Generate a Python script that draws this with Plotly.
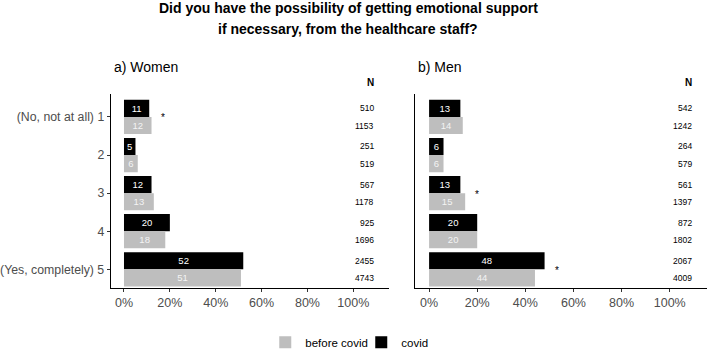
import plotly.graph_objects as go

W, H = 708, 357

categories = [1, 2, 3, 4, 5]
cat_labels = ["(No, not at all) 1", "2", "3", "4", "(Yes, completely) 5"]

women_covid = [11, 5, 12, 20, 52]
women_before = [12, 6, 13, 18, 51]
women_n_covid = [510, 251, 567, 925, 2455]
women_n_before = [1153, 519, 1178, 1696, 4743]
women_sig = [True, False, False, False, False]

men_covid = [13, 6, 13, 20, 48]
men_before = [14, 6, 15, 20, 44]
men_n_covid = [542, 264, 561, 872, 2067]
men_n_before = [1242, 579, 1397, 1802, 4009]
men_sig = [False, False, True, False, True]

x_tick_vals = [0, 20, 40, 60, 80, 100]
x_tick_text = ["0%", "20%", "40%", "60%", "80%", "100%"]

FONT = "Liberation Sans, Arial, sans-serif"
GREY = "#BEBEBE"
BLACK = "#000000"

def px_x(p):
    return p / W

def px_y(p):
    return 1 - p / H

fig = go.Figure()

panels = [
    ("x", "y", women_covid, women_before, women_n_covid, women_n_before, women_sig, True),
    ("x2", "y2", men_covid, men_before, men_n_covid, men_n_before, men_sig, False),
]

annotations = []
for xa, ya, cov, bef, ncov, nbef, sig, first in panels:
    fig.add_trace(go.Bar(
        x=cov, y=categories, orientation="h", name="covid",
        marker=dict(color=BLACK, line=dict(width=0)),
        text=[str(v) for v in cov], textposition="inside",
        insidetextanchor="middle", textangle=0,
        textfont=dict(color="white", size=9.5, family=FONT),
        xaxis=xa, yaxis=ya, showlegend=first, legendrank=2,
        offsetgroup="a", hoverinfo="skip",
    ))
    fig.add_trace(go.Bar(
        x=bef, y=categories, orientation="h", name="before covid",
        marker=dict(color=GREY, line=dict(width=0)),
        text=[str(v) for v in bef], textposition="inside",
        insidetextanchor="middle", textangle=0,
        textfont=dict(color="#F4F4F4", size=9.5, family=FONT),
        xaxis=xa, yaxis=ya, showlegend=first, legendrank=1,
        offsetgroup="b", hoverinfo="skip",
    ))
    for c, nc, nb in zip(categories, ncov, nbef):
        annotations.append(dict(xref=xa, yref=ya, x=110, y=c - 0.225, text=str(nc),
                                xanchor="right", yanchor="middle", showarrow=False,
                                font=dict(size=8.5, color="black", family=FONT)))
        annotations.append(dict(xref=xa, yref=ya, x=110, y=c + 0.225, text=str(nb),
                                xanchor="right", yanchor="middle", showarrow=False,
                                font=dict(size=8.5, color="black", family=FONT)))
    for c, s, a, b in zip(categories, sig, cov, bef):
        if s:
            annotations.append(dict(xref=xa, yref=ya, x=max(a, b) + 5, y=c, text="*",
                                    xanchor="center", yanchor="middle", showarrow=False,
                                    yshift=-1, font=dict(size=10, color="black", family=FONT)))
    annotations.append(dict(xref=xa, yref="paper", x=110, y=px_y(84), text="<b>N</b>",
                            xanchor="right", yanchor="middle", showarrow=False,
                            font=dict(size=10, color="black", family=FONT)))

annotations += [
    dict(xref="paper", yref="paper", x=px_x(347), y=px_y(8),
         text="<b>Did you have the possibility of getting emotional support</b>",
         showarrow=False, xanchor="center", yanchor="middle",
         font=dict(size=14, color="black", family=FONT)),
    dict(xref="paper", yref="paper", x=px_x(347), y=px_y(29),
         text="<b>if necessary, from the healthcare staff?</b>",
         showarrow=False, xanchor="center", yanchor="middle",
         font=dict(size=14, color="black", family=FONT)),
    dict(xref="paper", yref="paper", x=px_x(110), y=px_y(68), text="a) Women",
         showarrow=False, xanchor="left", yanchor="middle",
         font=dict(size=14, color="black", family=FONT)),
    dict(xref="paper", yref="paper", x=px_x(415), y=px_y(68), text="b) Men",
         showarrow=False, xanchor="left", yanchor="middle",
         font=dict(size=14, color="black", family=FONT)),
]

y_dom = [px_y(293.3), px_y(95.7)]
xr = [-5.8, 115.5]
yr = [5.5, 0.4]

common_x = dict(range=xr, showline=True, linecolor="black", linewidth=1,
                ticks="outside", ticklen=3, tickcolor="#333333", tickwidth=1,
                tickvals=x_tick_vals, ticktext=x_tick_text, showgrid=False,
                zeroline=False, fixedrange=True,
                tickfont=dict(size=12.5, color="#4D4D4D", family=FONT))

fig.update_layout(
    width=W, height=H,
    margin=dict(l=0, r=0, t=0, b=0),
    paper_bgcolor="white", plot_bgcolor="white",
    barmode="group", bargap=0.1, bargroupgap=0,
    uniformtext=dict(mode=False),
    xaxis=dict(domain=[px_x(109), px_x(388)], anchor="y", **common_x),
    xaxis2=dict(domain=[px_x(414.3), px_x(707)], anchor="y2", **common_x),
    yaxis=dict(domain=y_dom, range=yr, anchor="x", showline=True, linecolor="black",
               linewidth=1, ticks="outside", ticklen=3, tickcolor="#333333",
               tickvals=categories, ticktext=cat_labels, showgrid=False, zeroline=False,
               fixedrange=True,
               tickfont=dict(size=12.3, color="#4D4D4D", family=FONT)),
    yaxis2=dict(domain=y_dom, range=yr, anchor="x2", showline=True, linecolor="black",
                linewidth=1, ticks="", showticklabels=False, showgrid=False,
                zeroline=False, fixedrange=True),
    legend=dict(orientation="h", x=px_x(264), y=px_y(348), xanchor="left",
                yanchor="middle", font=dict(size=11.5, color="black", family=FONT),
                entrywidth=51, entrywidthmode="pixels",
                itemsizing="constant", traceorder="normal"),
    annotations=annotations,
    font=dict(family=FONT),
)

fig.write_html("out.html",
               config={"displayModeBar": False},
               post_script="document.body.style.margin='0';document.body.style.overflow='hidden';")
